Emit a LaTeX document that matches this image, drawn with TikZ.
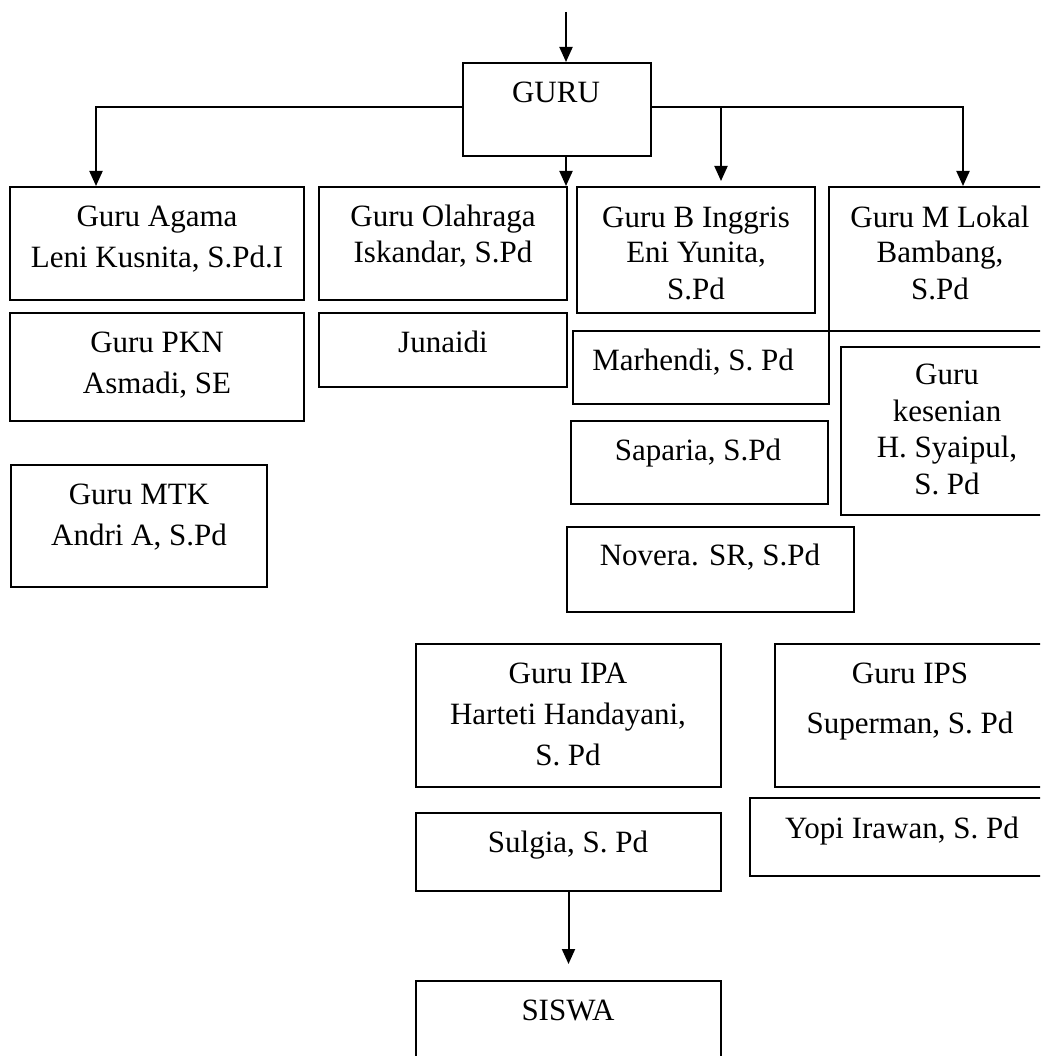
\documentclass[tikz,border=0pt]{standalone}
\usepackage{fontspec}
\setmainfont{Liberation Serif}
\usetikzlibrary{arrows.meta}
\begin{document}
\begin{tikzpicture}[x=1pt,y=-1pt,
  box/.style={draw, line width=2pt, inner sep=0pt},
  txt/.style={anchor=base, align=center, inner sep=0pt, font=\fontsize{31}{36}\selectfont},
  wide/.style={font=\fontsize{31}{41}\selectfont},
  arr/.style={line width=2pt, -{Triangle[length=15pt,width=13pt]}}]
\clip (0,0) rectangle (1040,1056);
\fill[white] (0,0) rectangle (1040,1056);
% boxes
\node[box, minimum width=188, minimum height=93] (guru) at (557,109.5) {};
\node[box, minimum width=294, minimum height=113] (agama) at (157,243.5) {};
\node[box, minimum width=248, minimum height=113] (olah) at (443,243.5) {};
\node[box, minimum width=238, minimum height=126] (inggris) at (696,250) {};
\node[box, minimum width=223, minimum height=144] (mlokal) at (940.5,259) {};
\node[box, minimum width=294, minimum height=108] (pkn) at (157,367) {};
\node[box, minimum width=248, minimum height=74] (junaidi) at (443,350) {};
\node[box, minimum width=256, minimum height=122] (mtk) at (139,526) {};
\node[box, minimum width=256, minimum height=73] (marhendi) at (701,367.5) {};
\node[box, minimum width=211, minimum height=168] (kesenian) at (946.5,431) {};
\node[box, minimum width=257, minimum height=83] (saparia) at (699.5,462.5) {};
\node[box, minimum width=287, minimum height=85] (novera) at (710.5,569.5) {};
\node[box, minimum width=305, minimum height=143] (ipa) at (568.5,715.5) {};
\node[box, minimum width=270, minimum height=143] (ips) at (910,715.5) {};
\node[box, minimum width=305, minimum height=78] (sulgia) at (568.5,852) {};
\node[box, minimum width=304, minimum height=78] (yopi) at (902,837) {};
\node[box, minimum width=305, minimum height=95] (siswa) at (568.5,1028.5) {};
% texts (base anchor = baseline of the last line)
\node[txt] (tguru) at (556,103) {GURU};
\node[txt, wide] (tagama) at (157,268) {Guru Agama\\Leni Kusnita, S.Pd.I};
\node[txt] (tolah) at (443,263) {Guru Olahraga\\Iskandar, S.Pd};
\node[txt] (tinggris) at (696,299) {Guru B Inggris\\Eni Yunita,\\S.Pd};
\node[txt] (tmlokal) at (940,299) {Guru M Lokal\\Bambang,\\S.Pd};
\node[txt, wide] (tpkn) at (157,393) {Guru PKN\\Asmadi, SE};
\node[txt] (tjunaidi) at (443,352) {Junaidi};
\node[txt, wide] (tmtk) at (139,545) {Guru MTK\\Andri A, S.Pd};
\node[txt] (tmarhendi) at (693,370) {Marhendi, S. Pd};
\node[txt, font=\fontsize{31}{36.5}\selectfont] (tkesenian) at (947,494) {Guru\\kesenian\\H. Syaipul,\\S. Pd};
\node[txt] (tsaparia) at (698,460) {Saparia, S.Pd};
\node[txt] (tnovera) at (710,565) {Novera. SR, S.Pd};
\node[txt, wide] (tipa) at (568,765) {Guru IPA\\Harteti Handayani,\\S. Pd};
\node[txt, font=\fontsize{31}{50}\selectfont] (tips) at (910,733) {Guru IPS\\Superman, S. Pd};
\node[txt] (tsulgia) at (568,852) {Sulgia, S. Pd};
\node[txt] (tyopi) at (902,838) {Yopi Irawan, S. Pd};
\node[txt] (tsiswa) at (568,1020) {SISWA};
% connectors
\coordinate (topin) at (566,12);
\draw[arr] (topin) -- (topin |- guru.north);
\coordinate (gl) at ([yshift=2pt]guru.west);
\coordinate (gr) at ([yshift=2pt]guru.east);
\coordinate (gs) at ([xshift=9pt]guru.south);
\coordinate (ag) at ([xshift=-61pt]agama.north);
\coordinate (ig) at ([xshift=25pt]inggris.north);
\coordinate (ml) at ([xshift=22.5pt]mlokal.north);
\draw[arr] (gl) -| (ag);
\draw[arr] (gs) -- (gs |- olah.north);
\draw[arr] (gr) -| (ml);
\draw[arr, shorten >=5pt] (ig |- gr) -- (ig);
\draw[arr, shorten >=16pt] (sulgia.south) -- (siswa.north);
\end{tikzpicture}
\end{document}
